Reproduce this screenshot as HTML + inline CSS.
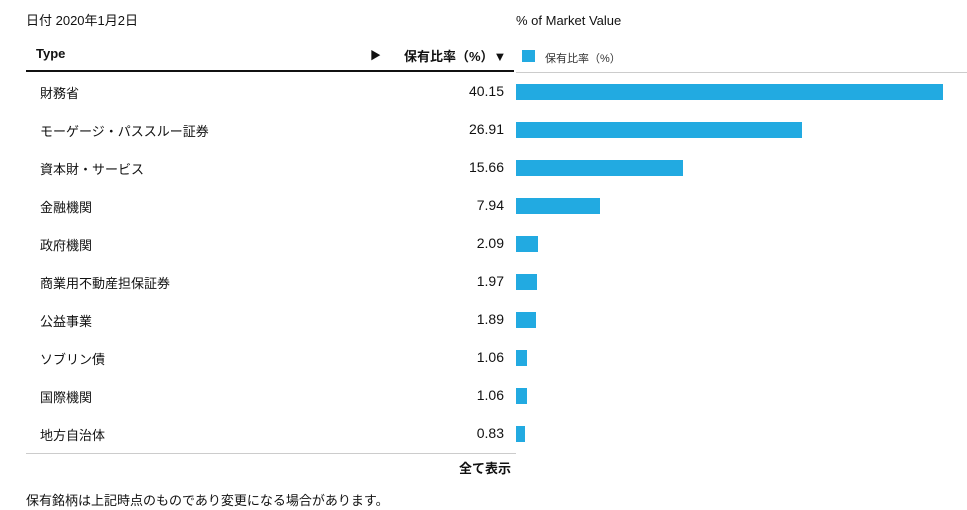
<!DOCTYPE html>
<html><head><meta charset="utf-8"><style>
body{margin:0;width:967px;height:510px;background:#fff;font-family:"Liberation Sans","Noto Sans CJK JP",sans-serif;color:#111;position:relative;overflow:hidden}
.a{position:absolute;white-space:nowrap}
</style></head><body>
<div class="a" style="left:26px;top:10px;font-size:13px">日付 2020年1月2日</div>
<div class="a" style="left:516px;top:13px;font-size:13px">% of Market Value</div>
<div class="a" style="left:36px;top:46px;font-size:13px;font-weight:bold">Type</div>
<div class="a" style="left:370px;top:47px;font-size:11px">▶</div>
<div class="a" style="left:404px;top:46px;font-size:13px;font-weight:bold">保有比率（%）▼</div>
<div class="a" style="left:522px;top:50px;width:13px;height:12px;background:#22aae1"></div>
<div class="a" style="left:545px;top:50px;font-size:11px;color:#333">保有比率（%）</div>
<div class="a" style="left:26px;top:70px;width:488px;height:2px;background:#111"></div>
<div class="a" style="left:516px;top:72px;width:451px;height:1px;background:#ccc"></div>
<div id="rows"></div>
<div class="a" style="left:26px;top:453px;width:490px;height:1px;background:#ccc"></div>
<div class="a" style="left:459px;top:458px;font-size:13px;font-weight:bold">全て表示</div>
<div class="a" style="left:26px;top:490px;font-size:13px">保有銘柄は上記時点のものであり変更になる場合があります。</div>
<script>
const categories=["財務省","モーゲージ・パススルー証券","資本財・サービス","金融機関","政府機関","商業用不動産担保証券","公益事業","ソブリン債","国際機関","地方自治体"];
const values=[40.15,26.91,15.66,7.94,2.09,1.97,1.89,1.06,1.06,0.83];
const valueLabels=["40.15","26.91","15.66","7.94","2.09","1.97","1.89","1.06","1.06","0.83"];
const x0=516,xMax=943,vMax=40.15;
function xs(v){return v/vMax*(xMax-x0);}
function ys(i){return 92+i*38;}
const root=document.getElementById('rows');
categories.forEach((c,i)=>{
 const y=ys(i);
 const l=document.createElement('div');l.className='a';
 
 
 l.style.cssText=`left:40px;top:${y-9}px;font-size:13px`;l.textContent=c;root.appendChild(l);
 const v=document.createElement('div');v.className='a';
 
 
 v.style.cssText=`right:${967-504}px;top:${y-9}px;font-size:14px;font-family:"Liberation Sans Narrow","Liberation Sans",sans-serif`;v.textContent=valueLabels[i];root.appendChild(v);
 const b=document.createElement('div');b.className='a';
 
 
 b.style.cssText=`left:${x0}px;top:${y-8}px;width:${xs(values[i])}px;height:16px;background:#22aae1`;root.appendChild(b);
});
</script>
</body></html>
